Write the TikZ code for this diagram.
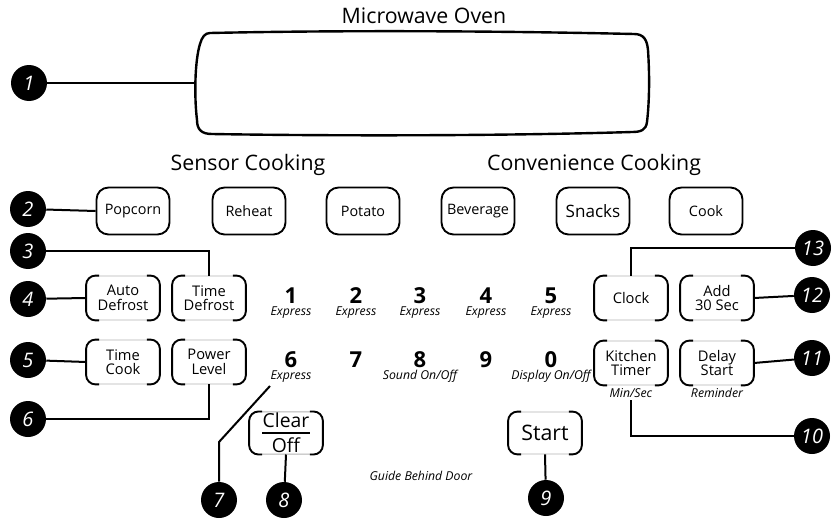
\documentclass[tikz,border=0pt]{standalone}
\usepackage{fontspec}
\setmainfont{Open Sans}
\usepackage{xcolor}
\usepackage{tikz}
\usetikzlibrary{shapes,arrows,positioning,calc}

\tikzset{
    key/.style={draw, line width=1.4pt, rounded corners=9pt,
        minimum width=54.75pt, minimum height=35.25pt, inner sep=1pt,
        font=\fontsize{10.8}{12}\selectfont},
    softkey/.style={draw=black!30, line width=0.6pt, rounded corners=7pt,
        minimum width=54.75pt, minimum height=33pt, inner sep=1pt, align=center,
        font=\fontsize{11}{10.8}\selectfont},
    keyside/.style={line width=1.4pt, rounded corners=7pt},
    marker/.style={circle, fill=black, text=white, minimum size=27pt, inner sep=0pt,
        font=\fontsize{15}{15}\selectfont\itshape},
    link/.style={line width=1.5pt},
    heading/.style={anchor=base, font=\fontsize{16}{16}\selectfont},
    digit/.style={anchor=base, inner sep=0pt, font=\fontsize{16.5}{16.5}\selectfont\bfseries},
    hint/.style={anchor=base, inner sep=0pt, font=\fontsize{9.2}{9.2}\selectfont\itshape}
}

\begin{document}
\begin{tikzpicture}[x=0.75pt, y=-0.75pt]
    \useasboundingbox (0,0) rectangle (833,521);

    % display window
    \node[heading] (title) at (424,23) {Microwave Oven};
    \draw[line width=1.8pt]
        (210,33) .. controls (350,30) and (500,31) .. (634,34)
        .. controls (644,34) and (647,40) .. (648,50)
        .. controls (650,80) and (649,105) .. (647,122)
        .. controls (646,130) and (641,132) .. (632,132)
        .. controls (500,136) and (330,136) .. (212,134)
        .. controls (202,134) and (197,130) .. (197,120)
        .. controls (194,95) and (195,60) .. (200,44)
        .. controls (202,37) and (205,33) .. (210,33) -- cycle;
    \coordinate (screen) at (196,83);

    % cooking keys
    \node[heading] (sensor) at (248,170) {Sensor Cooking};
    \node[heading] (conv) at (594,170) {Convenience Cooking};
    \node[key] (popcorn) at (133,211) {Popcorn};
    \node[key] (reheat) at (249,211) {Reheat};
    \node[key] (potato) at (363,211) {Potato};
    \node[key] (beverage) at (478,211) {Beverage};
    \node[key, font=\fontsize{12.8}{12.8}\selectfont] (snacks) at (593,211) {Snacks};
    \node[key] (cook) at (706,211) {Cook};

    % soft keys
    \node[softkey] (adefrost) at (123,298) {Auto\\Defrost};
    \node[softkey] (tdefrost) at (209,298) {Time\\Defrost};
    \node[softkey] (tcook) at (123,362) {Time\\Cook};
    \node[softkey] (plevel) at (209,362) {Power\\Level};
    \node[softkey] (clock) at (631,298) {Clock};
    \node[softkey] (add30) at (717,298) {Add\\30 Sec};
    \node[softkey] (ktimer) at (631,363) {Kitchen\\Timer};
    \node[softkey] (dstart) at (717,363) {Delay\\Start};
    \node[softkey, minimum height=31.5pt, font=\fontsize{14.5}{18.5}\selectfont] (clear) at (286,433) {Clear\\Off};
    \node[softkey, minimum height=31.5pt, font=\fontsize{16}{16}\selectfont] (start) at (545,433) {Start};
    \draw[line width=1.8pt] ($(clear.center)+(-24,0)$) -- ($(clear.center)+(24,0)$);
    \foreach \k in {adefrost,tdefrost,tcook,plevel,clock,add30,ktimer,dstart,clear,start} {
        \draw[keyside] ($(\k.north west)+(13,0)$) -- (\k.north west) -- (\k.south west) -- ($(\k.south west)+(13,0)$);
        \draw[keyside] ($(\k.north east)+(-13,0)$) -- (\k.north east) -- (\k.south east) -- ($(\k.south east)+(-13,0)$);
    }
    \node[hint] (minsec) at (631,397) {Min/Sec};
    \node[hint] (remind) at (717,397) {Reminder};

    % number pad
    \foreach \d/\x in {1/291,2/356,3/420,4/486,5/551} {
        \node[digit] (n\d) at (\x,303) {\d};
        \node[hint] (h\d) at (\x,315) {Express};
    }
    \foreach \d/\x in {6/291,7/356,8/420,9/486,0/551}
        \node[digit] (n\d) at (\x,367) {\d};
    \node[hint] (h6) at (291,379) {Express};
    \node[hint] (h8) at (420,379) {Sound On/Off};
    \node[hint] (h0) at (551,379) {Display On/Off};
    \node[hint] (guide) at (421,480) {Guide Behind Door};

    % callouts
    \node[marker] (m1) at (29,83) {1};
    \node[marker] (m2) at (28,209) {2};
    \node[marker] (m3) at (28,251) {3};
    \node[marker] (m4) at (28,299) {4};
    \node[marker] (m5) at (28,360) {5};
    \node[marker] (m6) at (28,419) {6};
    \node[marker] (m7) at (219,500) {7};
    \node[marker] (m8) at (284,500) {8};
    \node[marker] (m9) at (546,498) {9};
    \node[marker] (m10) at (812,436) {10};
    \node[marker] (m11) at (812,358) {11};
    \node[marker] (m12) at (812,295) {12};
    \node[marker] (m13) at (813,248) {13};

    \coordinate (bend7) at (219,442);
    \coordinate (tip7) at (270,386);
    \coordinate (tail10) at (631,400);

    \draw[link] (m1) -- (screen);
    \draw[link] (m2) -- (popcorn.west);
    \draw[link] (m3) -| (tdefrost.north);
    \draw[link] (m4) -- (adefrost.west);
    \draw[link] (m5) -- (tcook.west);
    \draw[link] (m6) -| (plevel.south);
    \draw[link] (m7) -- (bend7) -- (tip7);
    \draw[link] (clear.south) -- (m8);
    \draw[link] (start.south) -- (m9);
    \draw[link] (tail10) |- (m10);
    \draw[link] (dstart.east) -- (m11);
    \draw[link] (add30.east) -- (m12);
    \draw[link] (clock.north) |- (m13);
\end{tikzpicture}
\end{document}
